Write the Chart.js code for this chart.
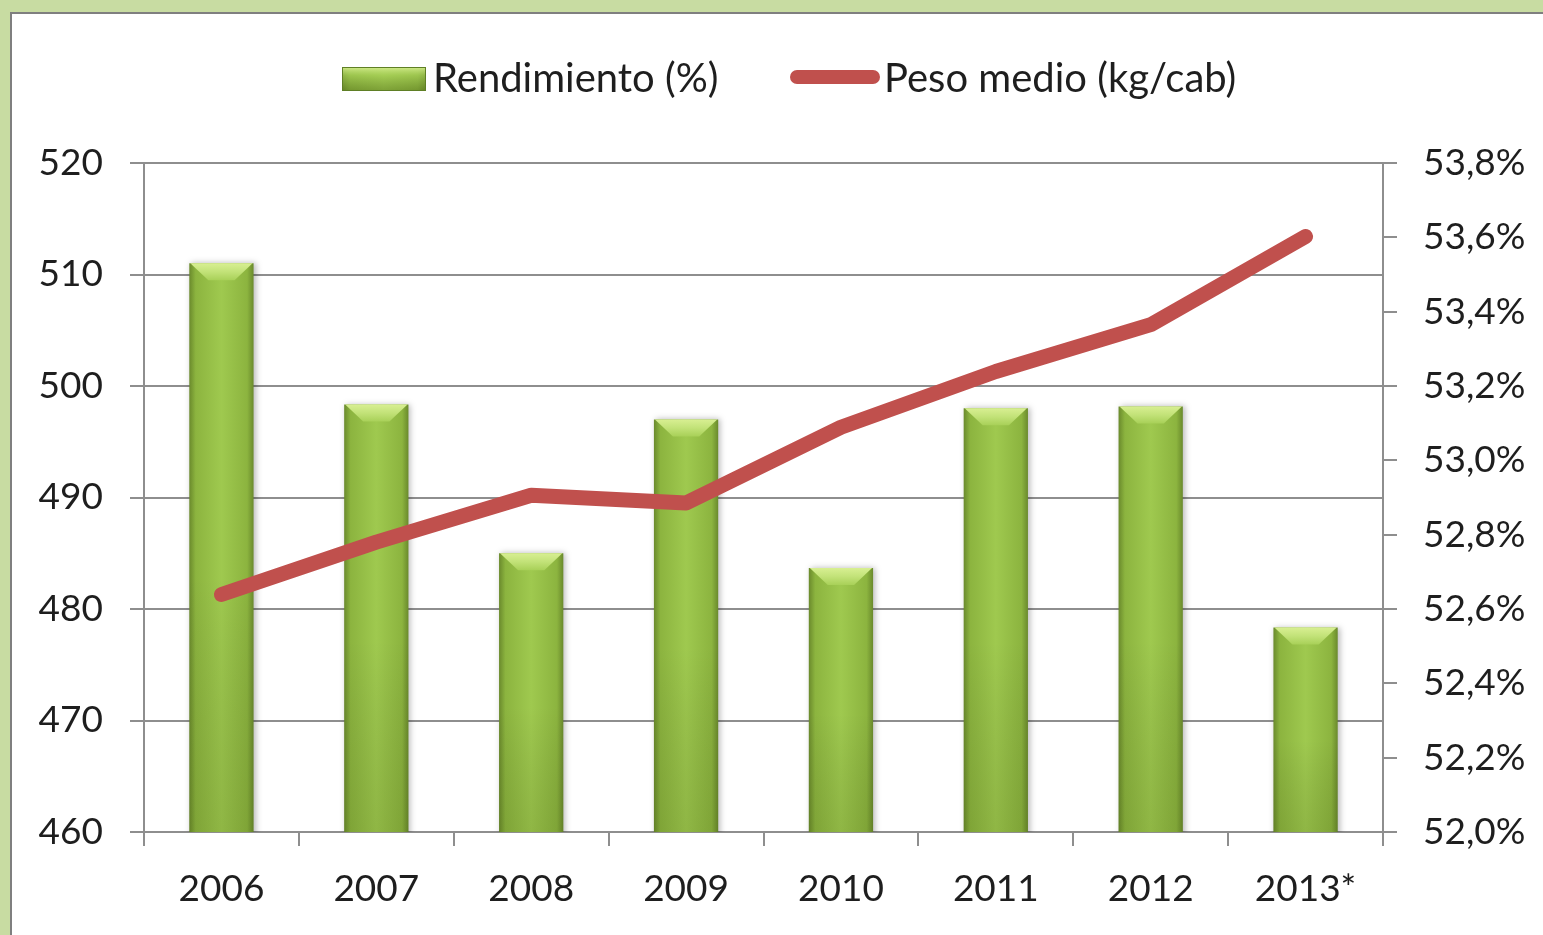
<!DOCTYPE html>
<html>
<head>
<meta charset="utf-8">
<script src="https://cdn.jsdelivr.net/npm/chart.js@4.4.1/dist/chart.umd.min.js"></script>
<style>
  html, body { margin: 0; padding: 0; width: 1543px; height: 935px; overflow: hidden; background: #c8dca2; }
  #panel { position: absolute; left: 10px; top: 12px; width: 1600px; height: 1000px; background: #ffffff; border: 2px solid #7f7f7f; box-sizing: border-box; }
  #c { position: absolute; left: 0; top: 0; }
</style>
</head>
<body>
<div id="panel"></div>
<canvas id="c" width="1543" height="935"></canvas>
<script>
const categories = ['2006', '2007', '2008', '2009', '2010', '2011', '2012', '2013*'];
const rendimiento = [53.53, 53.15, 52.75, 53.11, 52.71, 53.14, 53.145, 52.55];
const pesoMedio = [481.3, 486.0, 490.2, 489.5, 496.3, 501.3, 505.5, 513.4];
const seriesNames = ['Rendimiento (%)', 'Peso medio (kg/cab)'];

const FONT = 'Lato, "Open Sans", sans-serif';
const TEXT = '#1e1e1e';
const GRID = '#8e8e8e';
const LINE_COLOR = '#c0504d';
const BAR_PCT = 0.415;

function barGradient(ctx, x0, x1) {
  const g = ctx.createLinearGradient(x0, 0, x1, 0);
  g.addColorStop(0, '#6a8a2c');
  g.addColorStop(0.1, '#8cb43f');
  g.addColorStop(0.5, '#9fc94f');
  g.addColorStop(0.9, '#8cb43f');
  g.addColorStop(1, '#6a8a2c');
  return g;
}

function scriptedBarFill(c) {
  const chart = c.chart;
  const xs = chart.scales && chart.scales.x;
  if (!chart.chartArea || !xs || typeof c.dataIndex !== 'number') return '#93bd45';
  const cx = xs.getPixelForValue(c.dataIndex);
  const w = (xs.width / categories.length) * BAR_PCT;
  return barGradient(chart.ctx, cx - w / 2, cx + w / 2);
}

const barStyle = {
  id: 'barStyle',
  beforeDatasetDraw(chart, args) {
    if (args.index !== 1) return;
    const ctx = chart.ctx;
    ctx.save();
    ctx.shadowColor = 'rgba(0,0,0,0.28)';
    ctx.shadowBlur = 6;
    ctx.shadowOffsetX = 2;
    ctx.shadowOffsetY = 0;
  },
  afterDatasetDraw(chart, args) {
    if (args.index !== 1) return;
    const ctx = chart.ctx;
    ctx.restore();
    ctx.save();
    const bottom = chart.chartArea.bottom;
    args.meta.data.forEach(el => {
      const p = el.getProps(['x', 'y', 'width'], true);
      const w = p.width, l = p.x - w / 2, r = p.x + w / 2, t = p.y, b = bottom;
      const vg = ctx.createLinearGradient(0, t, 0, b);
      vg.addColorStop(0, 'rgba(0,0,0,0)');
      vg.addColorStop(0.55, 'rgba(0,0,0,0)');
      vg.addColorStop(1, 'rgba(40,60,0,0.13)');
      ctx.fillStyle = vg;
      ctx.fillRect(l, t, w, b - t);
      const bh = 17, inset = 19;
      ctx.beginPath();
      ctx.moveTo(l + 1, t);
      ctx.lineTo(r - 1, t);
      ctx.lineTo(r - inset, t + bh);
      ctx.lineTo(l + inset, t + bh);
      ctx.closePath();
      const tg = ctx.createLinearGradient(0, t, 0, t + bh);
      tg.addColorStop(0, '#d8ef92');
      tg.addColorStop(0.5, '#c2e278');
      tg.addColorStop(1, '#a8d058');
      ctx.fillStyle = tg;
      ctx.fill();
    });
    ctx.restore();
  }
};

const customLegend = {
  id: 'customLegend',
  afterDraw(chart) {
    const ctx = chart.ctx;
    ctx.save();
    ctx.font = '40px ' + FONT;
    ctx.textBaseline = 'middle';
    ctx.textAlign = 'left';
    const cy = 79;
    const sx = 342, sw = 84, sy = 67, sh = 24;
    ctx.fillStyle = barGradient(ctx, sx, sx + sw);
    ctx.fillRect(sx, sy, sw, sh);
    const vg = ctx.createLinearGradient(0, sy, 0, sy + sh);
    vg.addColorStop(0, 'rgba(214,238,144,0.95)');
    vg.addColorStop(0.35, 'rgba(168,208,88,0.6)');
    vg.addColorStop(1, 'rgba(90,120,30,0.5)');
    ctx.fillStyle = vg;
    ctx.fillRect(sx, sy, sw, sh);
    ctx.strokeStyle = '#5f7f25';
    ctx.lineWidth = 1;
    ctx.strokeRect(sx + 0.5, sy + 0.5, sw - 1, sh - 1);
    ctx.fillStyle = TEXT;
    ctx.fillText(seriesNames[0], 433, cy);
    ctx.strokeStyle = LINE_COLOR;
    ctx.lineWidth = 14;
    ctx.lineCap = 'round';
    ctx.beginPath();
    ctx.moveTo(797, 77);
    ctx.lineTo(873, 77);
    ctx.stroke();
    ctx.fillText(seriesNames[1], 884, cy);
    ctx.restore();
  }
};

new Chart(document.getElementById('c'), {
  data: {
    labels: categories,
    datasets: [
      {
        type: 'line',
        label: seriesNames[1],
        data: pesoMedio,
        yAxisID: 'y',
        borderColor: LINE_COLOR,
        borderWidth: 15,
        borderCapStyle: 'round',
        borderJoinStyle: 'round',
        pointRadius: 0,
        tension: 0,
        fill: false,
        order: 0
      },
      {
        type: 'bar',
        label: seriesNames[0],
        data: rendimiento,
        yAxisID: 'y1',
        backgroundColor: scriptedBarFill,
        borderWidth: 0,
        categoryPercentage: 1,
        barPercentage: BAR_PCT,
        order: 1
      }
    ]
  },
  options: {
    responsive: false,
    animation: false,
    layout: { padding: { top: 163, left: 0, right: 0, bottom: 0 } },
    plugins: { legend: { display: false }, tooltip: { enabled: false } },
    scales: {
      x: {
        offset: true,
        grid: { offset: true, drawOnChartArea: false, drawTicks: true, tickLength: 14, color: GRID, lineWidth: 2 },
        border: { display: true, color: GRID, width: 2 },
        ticks: { color: TEXT, font: { family: FONT, size: 37 }, padding: 21, maxRotation: 0 },
        afterFit(scale) { scale.height = 103; }
      },
      y: {
        position: 'left',
        min: 460, max: 520,
        grid: { drawTicks: true, tickLength: 14, color: GRID, lineWidth: 2 },
        border: { display: true, color: GRID, width: 2 },
        ticks: { stepSize: 10, color: TEXT, font: { family: FONT, size: 37 }, padding: 27 },
        afterFit(scale) { scale.width = 144; }
      },
      y1: {
        position: 'right',
        min: 52.0, max: 53.8,
        grid: { drawOnChartArea: false, drawTicks: true, tickLength: 14, color: GRID, lineWidth: 2 },
        border: { display: true, color: GRID, width: 2 },
        ticks: {
          stepSize: 0.2, color: TEXT, font: { family: FONT, size: 37 }, padding: 26,
          callback: v => v.toFixed(1).replace('.', ',') + '%'
        },
        afterFit(scale) { scale.width = 160; }
      }
    }
  },
  plugins: [barStyle, customLegend]
});
</script>
</body>
</html>
